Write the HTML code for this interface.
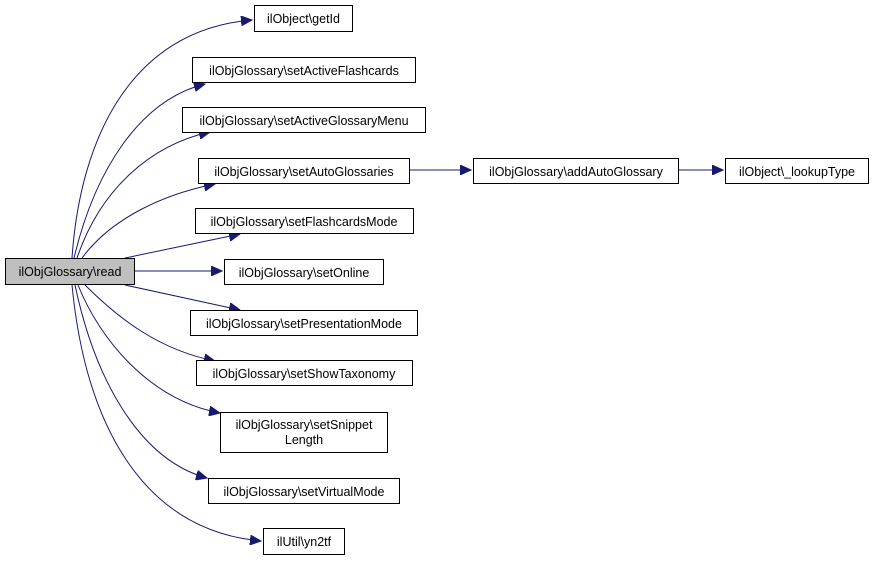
<!DOCTYPE html>
<html><head><meta charset="utf-8"><style>
body{margin:0;background:#fff;width:875px;height:560px;overflow:hidden}
svg{font-family:"Liberation Sans",sans-serif;font-size:12.5px}
.b{fill:#fff;stroke:#000;stroke-width:1}
.e{fill:none;stroke:#191970;stroke-width:1}
</style></head><body>
<svg width="875" height="560" viewBox="0 0 875 560">
<defs><marker id="a" markerWidth="12" markerHeight="10" refX="11" refY="5" orient="auto" markerUnits="userSpaceOnUse"><path d="M0,0 L11,5 L0,10 z" fill="#191970" stroke="#191970"/></marker></defs>
<g class="e" marker-end="url(#a)">
<path d="M72,258 C80,140 130,30 252,20" marker-end="url(#a)"/>
<path d="M74,258 C95,170 140,100 205,84" marker-end="url(#a)"/>
<path d="M77,258 C100,190 150,145 210,132" marker-end="url(#a)"/>
<path d="M82,258 C110,220 160,195 215,184" marker-end="url(#a)"/>
<path d="M125,258 L240,234" marker-end="url(#a)"/>
<path d="M135,271 L222,271" marker-end="url(#a)"/>
<path d="M125,285 L240,310" marker-end="url(#a)"/>
<path d="M85,285 C120,320 160,350 215,361" marker-end="url(#a)"/>
<path d="M78,285 C100,340 150,400 220,413" marker-end="url(#a)"/>
<path d="M75,285 C95,380 140,460 207,478" marker-end="url(#a)"/>
<path d="M72,285 C85,420 140,530 261,541" marker-end="url(#a)"/>
<path d="M409,170 L471,170" marker-end="url(#a)"/>
<path d="M678,170 L723,170" marker-end="url(#a)"/>
</g>
<rect x="5.5" y="258.5" width="129" height="26" fill="#bfbfbf" stroke="#000"/>
<text x="70" y="276" text-anchor="middle">ilObjGlossary\read</text>
<rect class="b" x="254.5" y="5.5" width="98" height="26"/><text x="303.5" y="23" text-anchor="middle">ilObject\getId</text>
<rect class="b" x="192.5" y="57.5" width="223" height="25"/><text x="304" y="75" text-anchor="middle">ilObjGlossary\setActiveFlashcards</text>
<rect class="b" x="182.5" y="107.5" width="243" height="25"/><text x="304" y="125" text-anchor="middle">ilObjGlossary\setActiveGlossaryMenu</text>
<rect class="b" x="198.5" y="158.5" width="211" height="25"/><text x="304" y="176" text-anchor="middle">ilObjGlossary\setAutoGlossaries</text>
<rect class="b" x="473.5" y="158.5" width="205" height="25"/><text x="576" y="176" text-anchor="middle">ilObjGlossary\addAutoGlossary</text>
<rect class="b" x="725.5" y="158.5" width="143" height="25"/><text x="797" y="176" text-anchor="middle">ilObject\_lookupType</text>
<rect class="b" x="195.5" y="208.5" width="218" height="25"/><text x="304" y="226" text-anchor="middle">ilObjGlossary\setFlashcardsMode</text>
<rect class="b" x="224.5" y="259.5" width="159" height="25"/><text x="304" y="277" text-anchor="middle">ilObjGlossary\setOnline</text>
<rect class="b" x="190.5" y="310.5" width="227" height="25"/><text x="304" y="328" text-anchor="middle">ilObjGlossary\setPresentationMode</text>
<rect class="b" x="196.5" y="360.5" width="216" height="25"/><text x="304" y="378" text-anchor="middle">ilObjGlossary\setShowTaxonomy</text>
<rect class="b" x="220.5" y="412.5" width="167" height="40"/><text x="304" y="429" text-anchor="middle">ilObjGlossary\setSnippet</text><text x="304" y="444" text-anchor="middle">Length</text>
<rect class="b" x="208.5" y="478.5" width="191" height="25"/><text x="304" y="496" text-anchor="middle">ilObjGlossary\setVirtualMode</text>
<rect class="b" x="263.5" y="528.5" width="81" height="26"/><text x="304" y="546" text-anchor="middle">ilUtil\yn2tf</text>
</svg>
</body></html>
